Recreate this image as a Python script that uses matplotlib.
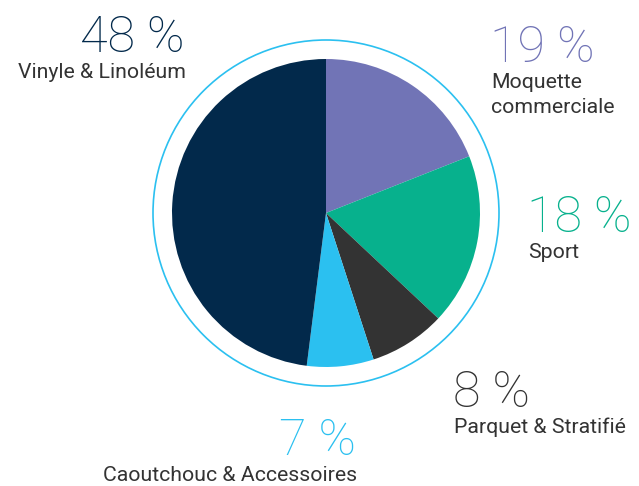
import matplotlib
matplotlib.use("Agg")
import matplotlib.pyplot as plt
from matplotlib.patches import Circle

categories = ["Moquette\ncommerciale", "Sport", "Parquet & Stratifié",
              "Caoutchouc & Accessoires", "Vinyle & Linoléum"]
values = [19, 18, 8, 7, 48]
pct_labels = ["19 %", "18 %", "8 %", "7 %", "48 %"]
colors = ["#7174b6", "#07b18d", "#333333", "#2bc0f0", "#02294b"]

W, H = 639, 486
fig = plt.figure(figsize=(W / 100, H / 100), dpi=100)
ax = fig.add_axes([0, 0, 1, 1])

cx, cy = 326, H - 213
ax.pie(values, colors=colors, startangle=90, counterclock=False,
       center=(cx, cy), radius=154, frame=True,
       wedgeprops=dict(linewidth=0))
ax.set_xlim(0, W)
ax.set_ylim(0, H)
ax.set_aspect("equal")
ax.axis("off")
ax.add_patch(Circle((cx, cy), 173, fill=False, ec="#2bc0f0", lw=1.2))

# label layout: (x, baseline_y_px, ha)
pos = [(490, 62, "left"), (527, 232, "left"), (453, 407, "left"),
       (356, 455, "right"), (185, 52, "right")]
for (x, y, ha), pct, cat, col in zip(pos, pct_labels, categories, colors):
    ax.text(x, H - y, pct, fontsize=36.3, family="Roboto", fontweight="light",
            color=col, ha=ha, va="baseline")
    for i, line in enumerate(cat.split("\n")):
        ax.text(x + 1, H - y - 26 - 25 * i, line, fontsize=15.3,
                family="Roboto", color="#333333", ha=ha, va="baseline")

fig.savefig("out.png", dpi=100)
